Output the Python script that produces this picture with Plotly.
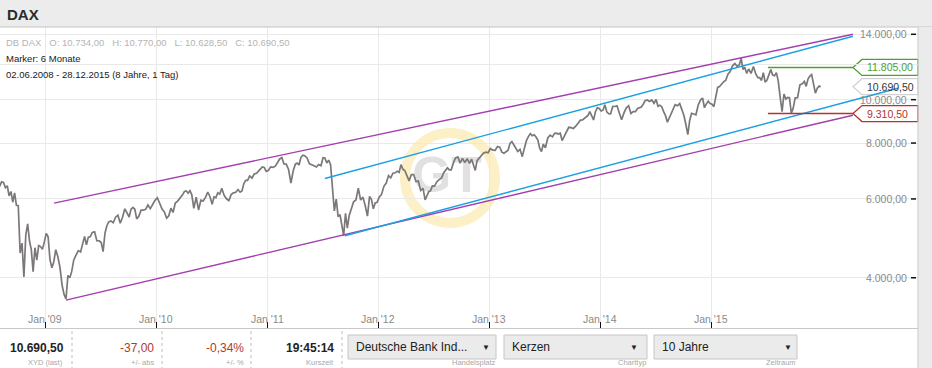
import math
import pandas as pd
import plotly.graph_objects as go

# ---------------- data (DAX, weekly points, grouped by month) ----------------
dax_2008_first_month = 7
dax_2008 = [
    [6400, 6480],
    [6415, 6552, 6535, 6356, 6422],
    [6095, 6235, 5900, 6189, 5807],
    [5797, 4544, 4782, 4015, 4988],
    [5278, 4838, 4622, 4127, 4669],
    [4381, 4719, 4696, 4629, 4810],
]
dax_2009 = [
    [5026, 4937, 4392, 4209, 4338],
    [4620, 4454, 4215, 3843],
    [3666, 3590, 4048, 4001, 4128],
    [4384, 4492, 4600, 4569],
    [4808, 4950, 4737, 4929, 4941],
    [5052, 5069, 4840, 4838],
    [4794, 4576, 5031, 5229, 5332],
    [5360, 5309, 5462, 5519],
    [5294, 5460, 5703, 5581],
    [5468, 5693, 5743, 5690, 5415],
    [5488, 5663, 5663, 5686],
    [5817, 5709, 5831, 5957],
]
dax_2010 = [
    [6037, 5875, 5696, 5608],
    [5434, 5501, 5722, 5598],
    [5877, 5936, 6017, 6120],
    [6235, 6250, 6180, 6259, 6136],
    [5716, 6056, 5670, 5964],
    [5938, 6050, 6216, 6070],
    [5835, 6065, 6041, 6194, 6148],
    [6336, 6110, 6005, 5951],
    [6135, 6190, 6209, 6298],
    [6211, 6249, 6492, 6605, 6601],
    [6754, 6682, 6823, 6849],
    [6947, 7006, 7075, 7057, 6914],
]
dax_2011 = [
    [6948, 7076, 7062, 7102],
    [7217, 7371, 7426, 7185],
    [7178, 6982, 6514, 6946],
    [7176, 7217, 7144, 7417, 7514],
    [7492, 7411, 7190, 7154],
    [7108, 7070, 7165, 7122],
    [7419, 7404, 7220, 7326, 7159],
    [6236, 5640, 5998, 5480, 5537],
    [5246, 4965, 5574, 5164, 5502],
    [5675, 5911, 5970, 6346],
    [5966, 6057, 5800, 5492],
    [6080, 5986, 5702, 5878, 5898],
]
dax_2012 = [
    [6057, 6143, 6404, 6511],
    [6766, 6692, 6849, 6864],
    [6921, 6880, 7157, 6996, 6947],
    [6775, 6583, 6801, 6801],
    [6561, 6579, 6271, 6339],
    [5970, 6131, 6229, 6263, 6416],
    [6410, 6557, 6630, 6689],
    [6865, 6944, 7040, 6971, 6970],
    [7214, 7412, 7451, 7216],
    [7397, 7232, 7380, 7203],
    [7363, 7163, 6950, 7309, 7405],
    [7517, 7596, 7636, 7612],
]
dax_2013 = [
    [7776, 7715, 7702, 7857],
    [7833, 7633, 7593, 7661],
    [7708, 7987, 8058, 7931, 7795],
    [7659, 7744, 7459, 7815],
    [8122, 8279, 8399, 8305, 8349],
    [8254, 8128, 7789, 7659, 7959],
    [7806, 8212, 8331, 8260],
    [8410, 8416, 8378, 8416, 8104],
    [8276, 8510, 8675, 8661],
    [8623, 8725, 8870, 9001],
    [9009, 9078, 9168, 9225, 9405],
    [9172, 9006, 9400, 9589, 9552],
]
dax_2014 = [
    [9435, 9473, 9742, 9392, 9306],
    [9301, 9662, 9656, 9692],
    [9350, 9017, 9342, 9588],
    [9695, 9315, 9409, 9401],
    [9556, 9581, 9629, 9768, 9943],
    [9987, 9913, 9987, 9816],
    [10009, 9666, 9720, 9644, 9407],
    [9210, 8903, 9092, 9339, 9470],
    [9747, 9691, 9799, 9490],
    [9195, 8788, 8355, 8988, 9326],
    [9291, 9252, 9732, 9980],
    [10087, 9594, 9787, 9923, 9805],
]
dax_2015 = [
    [9765, 9648, 10167, 10649, 10694],
    [10846, 10963, 11051, 11402],
    [11551, 11901, 12040, 11868],
    [11967, 12375, 11688, 11811, 11454],
    [11709, 11447, 11864, 11413],
    [11197, 11196, 11041, 11492, 10944],
    [11059, 11316, 11673, 11347, 11309],
    [11490, 10985, 10124, 9400, 10298],
    [10038, 10123, 10104, 9330, 9553],
    [10096, 10104, 10795, 10850],
    [10988, 10708, 11119, 11293, 11382],
    [10752, 10340, 10608, 10727, 10690.5],
]
last_date = "2015-12-28"

# trend channels (start/end dates and levels)
upper_outer_dates = ["2009-01-30", "2016-04-12"]
upper_outer_vals = [5873, 14000]
lower_outer_dates = ["2009-03-10", "2016-04-12"]
lower_outer_vals = [3566, 9232]
upper_inner_dates = ["2011-07-10", "2016-04-12"]
upper_inner_vals = [6666, 13856]
lower_inner_dates = ["2011-09-14", "2016-09-07"]
lower_inner_vals = [4965, 10605]

# horizontal marker levels
marker_dates = ["2015-07-07", "2016-04-12"]
resistance_level = 11805.00
support_level = 9310.50
last_price = 10690.50

# axes
x_tick_dates = ["2009-01-01", "2010-01-01", "2011-01-01", "2012-01-01",
                "2013-01-01", "2014-01-01", "2015-01-01"]
x_tick_text = ["Jan '09", "Jan '10", "Jan '11", "Jan '12", "Jan '13", "Jan '14", "Jan '15"]
y_grid_vals = [4000, 6000, 8000, 10000, 12000, 14000]
y_label_vals = [4000, 6000, 8000, 10000, 14000]
y_label_text = ["4.000,00", "6.000,00", "8.000,00", "10.000,00", "14.000,00"]

# ---------------- build series ----------------
def month_series(year, first_month, months):
    xs, ys = [], []
    for k, vals in enumerate(months):
        start = pd.Timestamp(year, first_month + k, 1)
        ndays = start.days_in_month
        n = len(vals)
        for i, v in enumerate(vals):
            xs.append(start + pd.Timedelta(days=(i + 0.5) * ndays / n))
            ys.append(v)
    return xs, ys

dates, values = [], []
for yr, fm, months in [(2008, dax_2008_first_month, dax_2008), (2009, 1, dax_2009),
                       (2010, 1, dax_2010), (2011, 1, dax_2011), (2012, 1, dax_2012),
                       (2013, 1, dax_2013), (2014, 1, dax_2014), (2015, 1, dax_2015)]:
    xs, ys = month_series(yr, fm, months)
    dates += xs
    values += ys
dates[-1] = pd.Timestamp(last_date)

# ---------------- geometry helpers ----------------
W, H = 932, 368
ML, MR, MT, MB = 0, 14, 27, 40
PW, PH = W - ML - MR, H - MT - MB
Y0, Y1 = 3.4898, 4.1624
X_RANGE = ["2008-08-05", "2016-11-12"]
x_start = pd.Timestamp(X_RANGE[0])
x_days = (pd.Timestamp(X_RANGE[1]) - x_start).days

def xp(px):
    return (px - ML) / PW

def yp(py):
    return (MT + PH - py) / PH

def yv(v):
    return (math.log10(v) - Y0) / (Y1 - Y0)

def px_to_date(px):
    return x_start + pd.Timedelta(days=xp(px) * x_days)

def py_to_val(py):
    return 10 ** (Y0 + yp(py) * (Y1 - Y0))

FONT = "Liberation Sans, Arial, sans-serif"
PURPLE = "#a23fae"
BLUE = "#1aa0e3"
GREEN = "#4f9f2f"
RED = "#b3332e"

fig = go.Figure()

# watermark letters (under the price line)
fig.add_trace(go.Scatter(
    x=[px_to_date(447)], y=[py_to_val(179)], mode="text", text=["GT"],
    textfont=dict(size=50, color="#e1e1e1", family=FONT, weight="bold"),
    hoverinfo="skip", showlegend=False))

fig.add_trace(go.Scatter(x=dates, y=values, mode="lines",
                         line=dict(color="#7c7877", width=1.7),
                         hoverinfo="skip", showlegend=False))

for xs, ys, col in [(upper_outer_dates, upper_outer_vals, PURPLE),
                    (lower_outer_dates, lower_outer_vals, PURPLE),
                    (upper_inner_dates, upper_inner_vals, BLUE),
                    (lower_inner_dates, lower_inner_vals, BLUE)]:
    fig.add_trace(go.Scatter(x=xs, y=ys, mode="lines", line=dict(color=col, width=1.4),
                             hoverinfo="skip", showlegend=False))

for lvl, col in [(resistance_level, GREEN), (support_level, RED)]:
    fig.add_trace(go.Scatter(x=marker_dates, y=[lvl, lvl], mode="lines",
                             line=dict(color=col, width=1.6),
                             hoverinfo="skip", showlegend=False))

shapes = []
annots = []

def rect(x0, y0, x1, y1, fill, line=None, lw=1, layer="above"):
    shapes.append(dict(type="rect", xref="paper", yref="paper",
                       x0=xp(x0), x1=xp(x1), y0=yp(y1), y1=yp(y0),
                       fillcolor=fill, layer=layer,
                       line=dict(color=line or fill, width=lw if line else 0)))

def seg(x0, y0, x1, y1, color, lw=1, dash=None, layer="above"):
    shapes.append(dict(type="line", xref="paper", yref="paper",
                       x0=xp(x0), x1=xp(x1), y0=yp(y0), y1=yp(y1), layer=layer,
                       line=dict(color=color, width=lw, dash=dash)))

def text(px, py, s, size, color, anchor="left", vanchor="middle", bg=None):
    annots.append(dict(xref="paper", yref="paper", x=xp(px), y=yp(py), text=s,
                       showarrow=False, xanchor=anchor, yanchor=vanchor,
                       font=dict(family=FONT, size=size, color=color),
                       bgcolor=bg, borderpad=0))

# header band
rect(0, 0, 932, 27, "#ececec")
seg(0, 27, 932, 27, "#c4c4c4")
text(6, 14, "<b>DAX</b>", 15, "#2b2b2b")
# right strip
rect(918.5, 27, 932, 368, "#ebebeb")
seg(918, 27, 918, 368, "#c6c6c6")
# bottom border of chart
seg(0, 328.5, 918, 328.5, "#c8c8c8")

# watermark ring
shapes.append(dict(type="circle", xref="paper", yref="paper",
                   x0=xp(405), x1=xp(495), y0=yp(223), y1=yp(133),
                   line=dict(color="#fdf0c6", width=10), layer="below"))

# info texts
sp = "\u00a0\u00a0 "
text(5, 42, "DB DAX" + sp + "O: 10.734,00" + sp + "H: 10.770,00" + sp + "L: 10.628,50" + sp + "C: 10.690,50",
     9.5, "#b4b4b4")
text(5, 58, "Marker: 6 Monate", 9.5, "#1a1a1a")
text(5, 74, "02.06.2008 - 28.12.2015 (8 Jahre, 1 Tag)", 9.5, "#1a1a1a")

# x tick labels (inside, just above the tick marks)
for d, s in zip(x_tick_dates, x_tick_text):
    annots.append(dict(xref="x", yref="paper", x=d, y=yp(318.5), text=s, showarrow=False,
                       xanchor="center", yanchor="middle",
                       font=dict(family=FONT, size=10.5, color="#8a8a8a")))

# y labels (right side) with masks over gridlines and tick dashes
for v, s in zip(y_label_vals, y_label_text):
    yc = MT + PH - yv(v) * PH
    rect(860, yc - 5, 910, yc + 5, "#ffffff", layer="between")
    text(908, yc, s, 10.5, "#8a8a8a", anchor="right")
    seg(911, yc, 916, yc, "#111111", lw=1.5)

# value label boxes
for lvl, col, tcol, s in [(resistance_level, GREEN, GREEN, "11.805,00"),
                          (last_price, "#d2d2d2", "#333333", "10.690,50"),
                          (support_level, RED, RED, "9.310,50")]:
    yc = yv(lvl)
    dy = 8 / PH
    path = (f"M {xp(853)},{yc} L {xp(862)},{yc + dy} L {xp(918)},{yc + dy} "
            f"L {xp(918)},{yc - dy} L {xp(862)},{yc - dy} Z")
    shapes.append(dict(type="path", xref="paper", yref="paper", path=path,
                       fillcolor="#ffffff", line=dict(color=col, width=1.3), layer="between"))
    text(866, MT + PH - yc * PH, s, 10.5, tcol, anchor="left")

# bottom panel
for sx in [72, 162, 251, 342]:
    seg(sx, 331, sx, 368, "#bdbdbd", dash="dot")
text(65, 348, "<b>10.690,50</b>", 12, "#222222", anchor="right")
text(155, 348, "-37,00", 12, "#b0392b", anchor="right")
text(245, 348, "-0,34%", 12, "#b0392b", anchor="right")
text(335, 348, "<b>19:45:14</b>", 12, "#222222", anchor="right")
for px, s in [(64, "XYD (last)"), (155, "+/- abs"), (245, "+/- %"), (335, "Kurszeit"),
              (497, "Handelsplatz"), (647, "Charttyp"), (797, "Zeitraum")]:
    text(px, 368, s, 7.5, "#a8a8a8", anchor="right", vanchor="bottom")

for x0, x1, s, tri in [(348, 496, "Deutsche Bank Ind...", 486),
                       (504, 647, "Kerzen", 634),
                       (654, 797, "10 Jahre", 788)]:
    rect(x0, 335, x1, 359, "#ebebeb", line="#c6c6c6")
    text(x0 + 7, 347, s, 12, "#222222")
    text(tri, 347, "\u25bc", 8, "#222222", anchor="center")

fig.update_layout(
    width=W, height=H, margin=dict(l=ML, r=MR, t=MT, b=MB),
    paper_bgcolor="#ffffff", plot_bgcolor="#ffffff",
    showlegend=False, shapes=shapes, annotations=annots,
    xaxis=dict(type="date", range=X_RANGE, tickvals=x_tick_dates, ticktext=x_tick_text,
               ticks="inside", ticklen=6, tickwidth=1, tickcolor="#111111",
               showticklabels=False,
               showgrid=True, gridcolor="#e9e9e9", gridwidth=1, zeroline=False, showline=False,
               fixedrange=True),
    yaxis=dict(type="log", range=[Y0, Y1], tickvals=y_grid_vals, showticklabels=False,
               ticks="", showgrid=True, gridcolor="#e9e9e9", gridwidth=1, zeroline=False,
               showline=False, fixedrange=True),
)

fig.write_html("out.html", config={"displayModeBar": False},
               post_script="document.body.style.margin='0px';document.body.style.overflow='hidden';")
